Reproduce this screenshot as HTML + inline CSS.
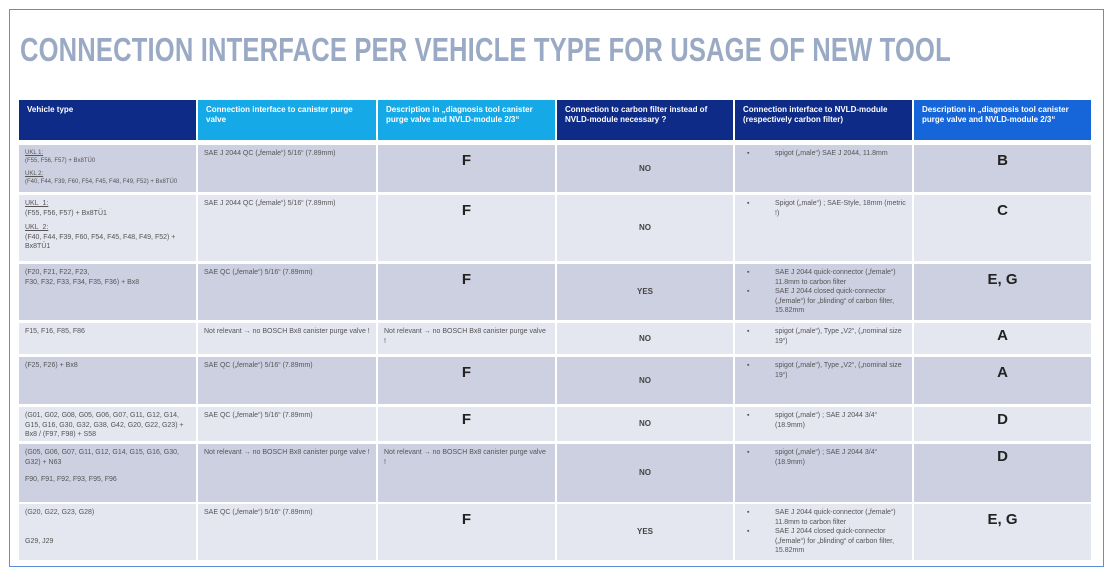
<!DOCTYPE html>
<html><head><meta charset="utf-8"><style>
*{margin:0;padding:0;box-sizing:border-box}
body{width:1110px;height:576px;background:#fff;position:relative;overflow:hidden;font-family:"Liberation Sans",sans-serif}
.frame{position:absolute;left:9px;top:9px;width:1095px;height:558px;border:1px solid #5b8fd6}
.title{position:absolute;left:20px;top:31px;font-size:33px;font-weight:bold;color:#9aaac4;white-space:nowrap;transform-origin:0 0;transform:scaleX(0.775);letter-spacing:0.2px}
.row{position:absolute;left:0;width:1110px}
.c{position:absolute;top:0;height:100%;padding:4px 6px;font-size:7px;line-height:9.5px;color:#555}
.c1{left:19px;width:177px}.c2{left:198px;width:178px}.c3{left:378px;width:177px}
.c4{left:557px;width:176px}.c5{left:735px;width:177px}.c6{left:914px;width:177px}
.d .c{background:#cdd0e1}.l .c{background:#e4e6f0}
.h .c{color:#fff;font-weight:bold;font-size:8px;line-height:10px;padding:5px 8px}
.navy{background:#0e2b88!important}.cyan{background:#16a9e8!important}.blue{background:#1766d9!important}
.big{text-align:center;font-size:15px;font-weight:bold;color:#222;padding-top:8px;line-height:16px}
.yn{text-align:center;font-weight:bold;font-size:8px;color:#444;display:flex;align-items:center;justify-content:center}
.b{display:flex;padding-left:6px}.b span:first-child{width:28px;flex:none}
u{text-decoration:underline}
.sm{font-size:6px;line-height:8px}
</style></head><body>
<div class="frame"></div>
<div class="title">CONNECTION INTERFACE PER VEHICLE TYPE FOR USAGE OF NEW TOOL</div>

<div class="row h" style="top:100px;height:40px">
<div class="c c1 navy">Vehicle type</div>
<div class="c c2 cyan">Connection interface to canister purge valve</div>
<div class="c c3 cyan">Description in „diagnosis tool canister purge valve and NVLD-module 2/3“</div>
<div class="c c4 navy">Connection to carbon filter instead of NVLD-module necessary ?</div>
<div class="c c5 navy">Connection interface to NVLD-module (respectively carbon filter)</div>
<div class="c c6 blue">Description in „diagnosis tool canister purge valve and NVLD-module 2/3“</div>
</div>

<div class="row d" style="top:145px;height:47px">
<div class="c c1 sm"><u>UKL 1:</u><br>(F55, F56, F57) + Bx8TÜ0<br><div style="height:5px"></div><u>UKL 2:</u><br>(F40, F44, F39, F60, F54, F45, F48, F49, F52) + Bx8TÜ0</div>
<div class="c c2">SAE J 2044 QC („female“) 5/16“ (7.89mm)</div>
<div class="c c3 big">F</div>
<div class="c c4 yn">NO</div>
<div class="c c5"><div class="b"><span>▪</span><span>spigot („male“) SAE J 2044, 11.8mm</span></div></div>
<div class="c c6 big">B</div>
</div>

<div class="row l" style="top:195px;height:66px">
<div class="c c1"><u>UKL_1:</u><br>(F55, F56, F57) + Bx8TÜ1<div style="height:5px"></div><u>UKL_2:</u><br>(F40, F44, F39, F60, F54, F45, F48, F49, F52) +<br>Bx8TÜ1</div>
<div class="c c2">SAE J 2044 QC („female“) 5/16“ (7.89mm)</div>
<div class="c c3 big">F</div>
<div class="c c4 yn">NO</div>
<div class="c c5"><div class="b"><span>▪</span><span>Spigot („male“) ; SAE-Style, 18mm (metric !)</span></div></div>
<div class="c c6 big">C</div>
</div>

<div class="row d" style="top:264px;height:56px">
<div class="c c1">(F20, F21, F22, F23,<br>F30, F32, F33, F34, F35, F36) + Bx8</div>
<div class="c c2">SAE QC („female“) 5/16“ (7.89mm)</div>
<div class="c c3 big">F</div>
<div class="c c4 yn">YES</div>
<div class="c c5"><div class="b"><span>▪</span><span>SAE J 2044 quick-connector („female“) 11.8mm to carbon filter</span></div><div class="b"><span>▪</span><span>SAE J 2044 closed quick-connector („female“) for „blinding“ of carbon filter, 15.82mm</span></div></div>
<div class="c c6 big">E, G</div>
</div>

<div class="row l" style="top:323px;height:31px">
<div class="c c1">F15, F16, F85, F86</div>
<div class="c c2">Not relevant → no BOSCH Bx8 canister purge valve !</div>
<div class="c c3">Not relevant → no BOSCH Bx8 canister purge valve !</div>
<div class="c c4 yn">NO</div>
<div class="c c5"><div class="b"><span>▪</span><span>spigot („male“), Type „V2“, („nominal size 19“)</span></div></div>
<div class="c c6 big" style="padding-top:5px">A</div>
</div>

<div class="row d" style="top:357px;height:47px">
<div class="c c1">(F25, F26) + Bx8</div>
<div class="c c2">SAE QC („female“) 5/16“ (7.89mm)</div>
<div class="c c3 big">F</div>
<div class="c c4 yn">NO</div>
<div class="c c5"><div class="b"><span>▪</span><span>spigot („male“), Type „V2“, („nominal size 19“)</span></div></div>
<div class="c c6 big">A</div>
</div>

<div class="row l" style="top:407px;height:34px">
<div class="c c1">(G01, G02, G08, G05, G06, G07, G11, G12, G14, G15, G16, G30, G32, G38, G42, G20, G22, G23) + Bx8 / (F97, F98) + S58</div>
<div class="c c2">SAE QC („female“) 5/16“ (7.89mm)</div>
<div class="c c3 big" style="padding-top:5px">F</div>
<div class="c c4 yn">NO</div>
<div class="c c5"><div class="b"><span>▪</span><span>spigot („male“) ; SAE J 2044 3/4“ (18.9mm)</span></div></div>
<div class="c c6 big" style="padding-top:5px">D</div>
</div>

<div class="row d" style="top:444px;height:58px">
<div class="c c1">(G05, G06, G07, G11, G12, G14, G15, G16, G30, G32) + N63<div style="height:8px"></div>F90, F91, F92, F93, F95, F96</div>
<div class="c c2">Not relevant → no BOSCH Bx8 canister purge valve !</div>
<div class="c c3">Not relevant → no BOSCH Bx8 canister purge valve !</div>
<div class="c c4 yn">NO</div>
<div class="c c5"><div class="b"><span>▪</span><span>spigot („male“) ; SAE J 2044 3/4“ (18.9mm)</span></div></div>
<div class="c c6 big" style="padding-top:5px">D</div>
</div>

<div class="row l" style="top:504px;height:56px">
<div class="c c1">(G20, G22, G23, G28)<div style="height:19px"></div>G29, J29</div>
<div class="c c2">SAE QC („female“) 5/16“ (7.89mm)</div>
<div class="c c3 big">F</div>
<div class="c c4 yn">YES</div>
<div class="c c5"><div class="b"><span>▪</span><span>SAE J 2044 quick-connector („female“) 11.8mm to carbon filter</span></div><div class="b"><span>▪</span><span>SAE J 2044 closed quick-connector („female“) for „blinding“ of carbon filter, 15.82mm</span></div></div>
<div class="c c6 big">E, G</div>
</div>
</body></html>
